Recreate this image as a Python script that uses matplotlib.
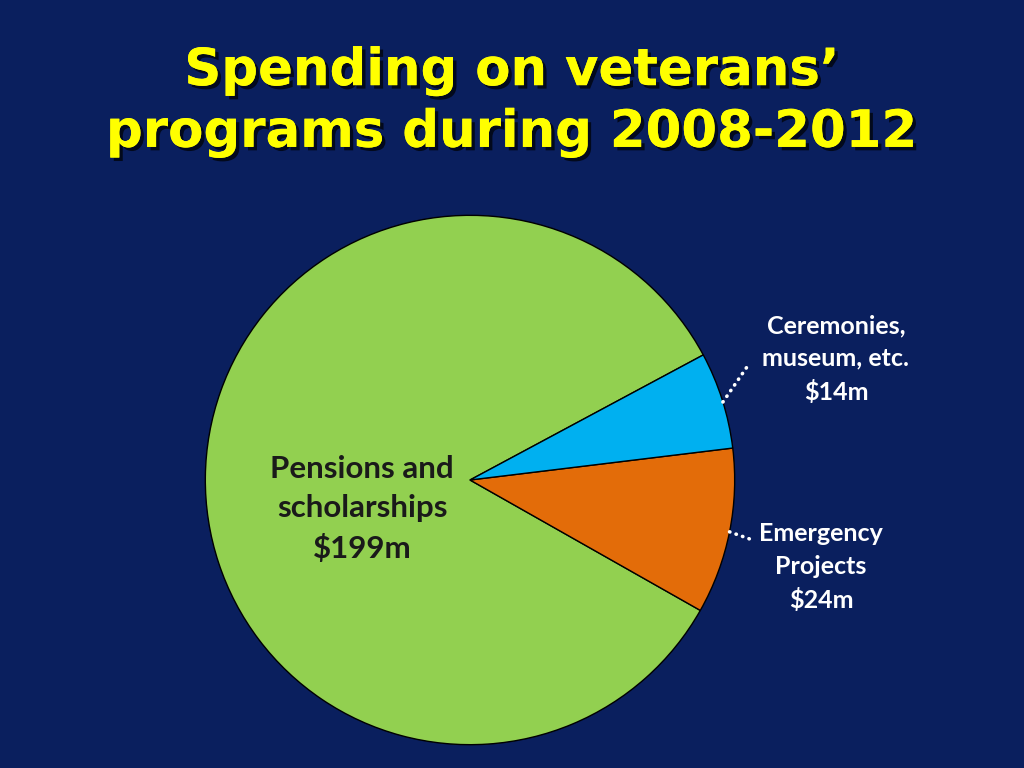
import matplotlib
matplotlib.use("Agg")
import matplotlib.pyplot as plt
import matplotlib.patheffects as pe
import numpy as np

title = "Spending on veterans’\nprograms during 2008-2012"
categories = ["Pensions and\nscholarships", "Emergency\nProjects", "Ceremonies,\nmuseum, etc."]
values = [199, 24, 14]
value_labels = ["$199m", "$24m", "$14m"]
colors = ["#92D050", "#E36C09", "#00B0F0"]
bg = "#0A1F5E"

fig = plt.figure(figsize=(10.24, 7.68), dpi=100)
fig.patch.set_facecolor(bg)

W, H = 1024, 768
cx, cy, r = 470, 480, 266
ax = fig.add_axes([(cx - r) / W, (H - cy - r) / H, 2 * r / W, 2 * r / H])
ax.set_facecolor(bg)
wedges, _ = ax.pie(values, colors=colors, startangle=28.2, counterclock=True,
                   wedgeprops=dict(edgecolor="black", linewidth=1.0))
ax.set_xlim(-1.005, 1.005)
ax.set_ylim(-1.005, 1.005)
ax.set_aspect("equal")
ax.axis("off")

fig.text(512 / W, 1 - 102 / H, title, ha="center", va="center", color="#FFFF00",
         fontsize=37, fontweight="bold", family="DejaVu Sans", linespacing=1.3,
         path_effects=[pe.withSimplePatchShadow(offset=(2.5, -2.5), shadow_rgbFace="black", alpha=0.7),
                       pe.Normal()])

# inside label
fig.text(362 / W, 1 - 509 / H, categories[0] + "\n" + value_labels[0], ha="center", va="center",
         color="#1A1A1A", fontsize=22.5, fontweight="bold", family="Lato", linespacing=1.5)

# outside labels with dotted leaders
fig.text(836 / W, 1 - 359 / H, categories[2] + "\n" + value_labels[2], ha="center", va="center",
         color="white", fontsize=18, fontweight="bold", family="Lato", linespacing=1.5)
fig.text(821 / W, 1 - 567 / H, categories[1] + "\n" + value_labels[1], ha="center", va="center",
         color="white", fontsize=18, fontweight="bold", family="Lato", linespacing=1.5)

def edge_point(w, frac=0.5):
    ang = np.deg2rad(w.theta1 + (w.theta2 - w.theta1) * frac)
    return np.cos(ang), np.sin(ang)

def leader(p, end_px):
    ex, ey = (end_px[0] - cx) / r, (cy - end_px[1]) / r
    ax.plot([p[0], ex], [p[1], ey], color="white", linewidth=2.6,
            linestyle=(0, (0.1, 1.8)), dash_capstyle="round", clip_on=False)

leader(edge_point(wedges[2], 0.48), (750, 364))
leader(edge_point(wedges[1], 0.5), (756, 541))

fig.savefig("out.png", dpi=100, facecolor=bg)
